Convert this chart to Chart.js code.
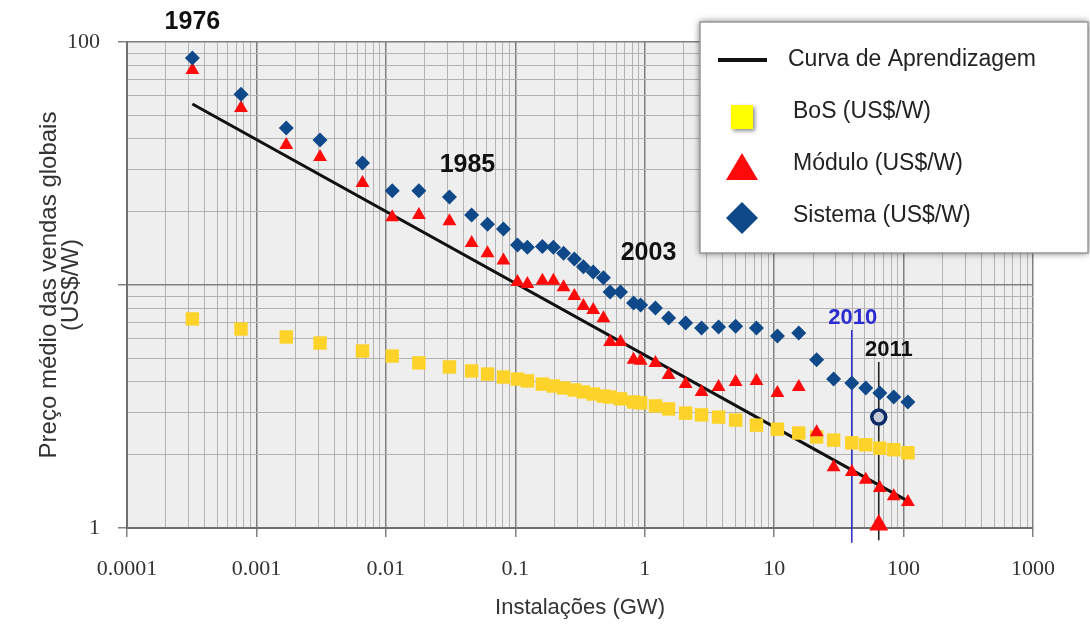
<!DOCTYPE html>
<html>
<head>
<meta charset="utf-8">
<script src="https://cdn.jsdelivr.net/npm/chart.js@4.4.0/dist/chart.umd.min.js"></script>
<style>
  html, body { margin: 0; padding: 0; background: #fff; }
  #wrap { width: 1090px; height: 626px; }
</style>
</head>
<body>
<div id="wrap"><canvas id="chart" width="1090" height="626"></canvas></div>
<script>
/** Installed capacity (GW), one value per year, shared by the three series. */
const installs = [0.00032, 0.00076, 0.0017, 0.0031, 0.0066, 0.0112, 0.018, 0.031, 0.046, 0.061,
  0.081, 0.104, 0.124, 0.162, 0.197, 0.236, 0.286, 0.336, 0.40, 0.48,
  0.54, 0.65, 0.82, 0.93, 1.21, 1.53, 2.07, 2.75, 3.72, 5.04,
  7.3, 10.6, 15.5, 21.3, 28.8, 39.8, 51, 65.5, 84, 108];

/** Prices (US$/W). */
const sistema = [86, 61, 44.3, 39.5, 31.8, 24.4, 24.4, 23.0, 19.4, 17.8,
  17.0, 14.6, 14.3, 14.4, 14.3, 13.5, 12.8, 11.9, 11.3, 10.7,
  9.36, 9.36, 8.43, 8.27, 8.04, 7.31, 6.98, 6.65, 6.71, 6.77,
  6.65, 6.17, 6.35, 4.92, 4.10, 3.95, 3.77, 3.59, 3.46, 3.30];
const modulo = [76.7, 53.5, 37.7, 33.6, 26.3, 19.0, 19.4, 18.3, 14.9, 13.5,
  12.6, 10.3, 10.1, 10.4, 10.4, 9.8, 9.0, 8.2, 7.9, 7.3,
  5.83, 5.83, 4.92, 4.88, 4.78, 4.26, 3.91, 3.63, 3.80, 3.99,
  4.03, 3.59, 3.80, 2.48, 1.78, 1.70, 1.58, 1.46, 1.35, 1.28];
const bos = [7.25, 6.59, 6.11, 5.77, 5.35, 5.10, 4.78, 4.60, 4.43, 4.30,
  4.18, 4.10, 4.03, 3.91, 3.84, 3.77, 3.70, 3.63, 3.56, 3.49,
  3.46, 3.40, 3.30, 3.27, 3.18, 3.09, 2.97, 2.92, 2.86, 2.78,
  2.65, 2.55, 2.46, 2.37, 2.30, 2.24, 2.20, 2.13, 2.10, 2.04];

/** Learning curve end points. */
const curveX = [0.00032, 108];
const curveY = [55.6, 1.29];

/** 2011 extra points and the 2010 / 2011 marker lines. */
const sistema2011 = { x: 64.3, y: 2.86 };
const modulo2011 = { x: 64.3, y: 1.03 };
const line2010X = [39.8, 39.8];
const line2010Y = [6.53, 0.87];
const line2011X = [64.3, 64.3];
const line2011Y = [4.82, 0.89];

/** Year labels, anchored in data units. */
const yearText = ['1976', '1985', '2003', '2010', '2011'];
const yearX = [0.00032, 0.0427, 1.07, 40.5, 76.9];
const yearY = [121, 31.2, 13.5, 7.31, 5.4];

/** Axis ticks. */
const xTickValues = [0.0001, 0.001, 0.01, 0.1, 1, 10, 100, 1000];
const xTickLabels = ['0.0001', '0.001', '0.01', '0.1', '1', '10', '100', '1000'];
const yTickValues = [1, 10, 100];
const yTickLabels = ['1', '', '100'];

const toPoints = (xs, ys) => xs.map((x, i) => ({ x, y: ys[i] }));

/** Log ticks 1..9 per decade between min and max. */
const logTicks = (min, max) => {
  const out = [];
  for (let d = Math.round(Math.log10(min)); d < Math.round(Math.log10(max)); d++) {
    for (let k = 1; k <= 9; k++) {
      out.push(Number((k * Math.pow(10, d)).toPrecision(6)));
    }
  }
  out.push(max);
  return out;
};

const isDecade = (v) => Math.abs(Math.log10(v) - Math.round(Math.log10(v))) < 1e-6;

const labelFor = (values, labels) => (v) => {
  const i = values.findIndex((t) => Math.abs(Math.log10(t) - Math.log10(v)) < 1e-6);
  return i >= 0 ? labels[i] : '';
};

const gridOpts = {
  color: (c) => (c.tick && isDecade(c.tick.value) ? '#808080' : '#b3b3b3'),
  lineWidth: (c) => (c.tick && isDecade(c.tick.value) ? 1.5 : 1),
  tickColor: (c) => (c.tick && isDecade(c.tick.value) ? '#808080' : 'rgba(0,0,0,0)'),
  tickLength: 9,
  drawTicks: true,
};

/** Plot background. */
const plotBackground = {
  id: 'plotBackground',
  beforeDraw(chart) {
    const { ctx, chartArea: a } = chart;
    ctx.save();
    ctx.fillStyle = '#eeeeee';
    ctx.fillRect(a.left, a.top, a.right - a.left, a.bottom - a.top);
    ctx.restore();
  },
};

/** Year labels. */
const yearLabels = {
  id: 'yearLabels',
  afterDatasetsDraw(chart) {
    const { ctx, scales } = chart;
    ctx.save();
    ctx.textAlign = 'center';
    ctx.textBaseline = 'middle';
    yearText.forEach((t, i) => {
      const small = t === '2010' || t === '2011';
      ctx.font = 'bold ' + (small ? 22 : 25) + 'px "Liberation Sans", Arial, sans-serif';
      ctx.fillStyle = t === '2010' ? '#2b2bd0' : '#111';
      ctx.fillText(t, scales.x.getPixelForValue(yearX[i]), scales.y.getPixelForValue(yearY[i]));
    });
    ctx.restore();
  },
};

/** Legend box drawn at the top right, over the plot. */
const legendBox = {
  id: 'legendBox',
  afterDraw(chart) {
    const { ctx } = chart;
    const box = { left: 700, top: 22, right: 1088, bottom: 253 };
    const rows = [60, 112, 164, 216];
    const symX = 742;
    const textX = 790;
    ctx.save();
    ctx.shadowColor = 'rgba(0,0,0,0.6)';
    ctx.shadowBlur = 7;
    ctx.fillStyle = '#fff';
    ctx.fillRect(box.left, box.top, box.right - box.left, box.bottom - box.top);
    ctx.shadowColor = 'transparent';
    ctx.strokeStyle = '#999';
    ctx.lineWidth = 1.5;
    ctx.strokeRect(box.left, box.top, box.right - box.left, box.bottom - box.top);

    const entries = ['Curva de Aprendizagem', 'BoS (US$/W)', 'Módulo (US$/W)', 'Sistema (US$/W)'];
    entries.forEach((label, i) => {
      const ds = chart.data.datasets.find((d) => d.label === label);
      const y = rows[i];
      ctx.beginPath();
      if (ds.pointStyle === 'line') {
        ctx.strokeStyle = ds.borderColor;
        ctx.lineWidth = 4;
        ctx.moveTo(symX - 24, y);
        ctx.lineTo(symX + 25, y);
        ctx.stroke();
      } else if (ds.pointStyle === 'rect') {
        ctx.save();
        ctx.shadowColor = 'rgba(0,0,0,0.45)';
        ctx.shadowBlur = 4;
        ctx.shadowOffsetX = 2;
        ctx.shadowOffsetY = 2;
        ctx.fillStyle = ds.legendColor;
        ctx.fillRect(symX - 11, y - 7, 22, 24);
        ctx.restore();
      } else if (ds.pointStyle === 'triangle') {
        ctx.fillStyle = ds.backgroundColor;
        ctx.moveTo(symX, y - 11);
        ctx.lineTo(symX + 16, y + 16);
        ctx.lineTo(symX - 16, y + 16);
        ctx.closePath();
        ctx.fill();
      } else {
        ctx.fillStyle = ds.backgroundColor;
        ctx.moveTo(symX, y - 14);
        ctx.lineTo(symX + 16, y + 2);
        ctx.lineTo(symX, y + 18);
        ctx.lineTo(symX - 16, y + 2);
        ctx.closePath();
        ctx.fill();
      }
      ctx.fillStyle = '#222';
      ctx.font = '23px "Liberation Sans", Arial, sans-serif';
      ctx.textAlign = 'left';
      ctx.textBaseline = 'middle';
      ctx.fillText(label, i === 0 ? textX - 2 : textX + 3, y);
    });
    ctx.restore();
  },
};

const config = {
  type: 'scatter',
  data: {
    datasets: [
      {
        label: 'Sistema (US$/W)',
        data: toPoints(installs, sistema),
        pointStyle: 'rectRot',
        pointRadius: 7.5,
        backgroundColor: '#10498a',
        borderWidth: 0,
        order: 1,
      },
      {
        label: 'Módulo (US$/W)',
        data: toPoints(installs, modulo),
        pointStyle: 'triangle',
        pointRadius: 8,
        backgroundColor: '#ff0a0a',
        borderWidth: 0,
        order: 2,
      },
      {
        label: 'BoS (US$/W)',
        data: toPoints(installs, bos),
        pointStyle: 'rect',
        pointRadius: 9.5,
        backgroundColor: '#fdd32a',
        legendColor: '#ffff00',
        borderWidth: 0,
        order: 3,
      },
      {
        label: 'Curva de Aprendizagem',
        type: 'line',
        data: toPoints(curveX, curveY),
        pointStyle: 'line',
        borderColor: '#111',
        borderWidth: 3,
        pointRadius: 0,
        order: 4,
      },
      {
        label: '2010',
        type: 'line',
        data: toPoints(line2010X, line2010Y),
        borderColor: '#3434cc',
        borderWidth: 1.6,
        pointRadius: 0,
        clip: false,
        order: 5,
      },
      {
        label: '2011',
        type: 'line',
        data: toPoints(line2011X, line2011Y),
        borderColor: '#222',
        borderWidth: 1.6,
        pointRadius: 0,
        clip: false,
        order: 5,
      },
      {
        label: 'Sistema 2011',
        data: [sistema2011],
        pointStyle: 'circle',
        pointRadius: 7,
        backgroundColor: '#c4cad8',
        borderColor: '#0b2a66',
        borderWidth: 3.5,
        order: 0,
      },
      {
        label: 'Módulo 2011',
        data: [modulo2011],
        pointStyle: 'triangle',
        pointRadius: 11,
        backgroundColor: '#ff0a0a',
        borderWidth: 0,
        clip: false,
        order: 0,
      },
    ],
  },
  options: {
    responsive: false,
    animation: false,
    events: [],
    layout: { padding: { top: 42, right: 57, left: 0, bottom: 0 } },
    plugins: {
      legend: { display: false },
      tooltip: { enabled: false },
    },
    scales: {
      x: {
        type: 'logarithmic',
        min: 0.0001,
        max: 1000,
        afterBuildTicks: (scale) => {
          scale.ticks = logTicks(0.0001, 1000).map((v) => ({ value: v, major: isDecade(v) }));
        },
        afterFit: (scale) => { scale.height = 98; },
        grid: gridOpts,
        border: { color: '#707070', width: 2 },
        ticks: {
          autoSkip: false,
          maxRotation: 0,
          minRotation: 0,
          padding: 19,
          color: '#333',
          font: { family: '"Liberation Serif", "Times New Roman", serif', size: 22 },
          callback: labelFor(xTickValues, xTickLabels),
        },
        title: {
          display: true,
          text: 'Instalações (GW)',
          color: '#333',
          font: { size: 22, lineHeight: '26px' },
          padding: { top: 0, bottom: 5 },
        },
      },
      y: {
        type: 'logarithmic',
        min: 1,
        max: 100,
        afterBuildTicks: (scale) => {
          scale.ticks = logTicks(1, 100).map((v) => ({ value: v, major: isDecade(v) }));
        },
        afterFit: (scale) => { scale.width = 127; },
        grid: gridOpts,
        border: { color: '#707070', width: 2 },
        ticks: {
          autoSkip: false,
          padding: 18,
          color: '#333',
          font: { family: '"Liberation Serif", "Times New Roman", serif', size: 22 },
          callback: labelFor(yTickValues, yTickLabels),
        },
        title: {
          display: true,
          text: ['Preço médio das vendas globais', '(US$/W)'],
          color: '#333',
          font: { size: 24, lineHeight: '22px' },
          padding: { top: 38, bottom: 0 },
        },
      },
    },
  },
  plugins: [plotBackground, yearLabels, legendBox],
};

Chart.defaults.font.family = '"Liberation Sans", Arial, sans-serif';
new Chart(document.getElementById('chart').getContext('2d'), config);
</script>
</body>
</html>
